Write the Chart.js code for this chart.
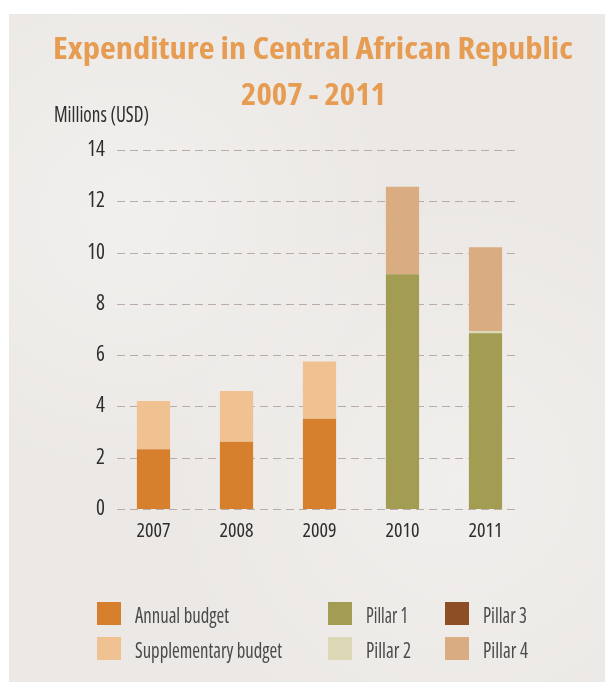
<!DOCTYPE html>
<html>
<head>
<meta charset="utf-8">
<script src="https://cdn.jsdelivr.net/npm/chart.js@4"></script>
<style>
  html, body { margin: 0; padding: 0; width: 609px; height: 682px; overflow: hidden; background: #ffffff; }
  #paper { position: absolute; left: 9px; top: 14px; width: 596px; height: 668px;
    background: #EBE8E5;
    background-image: radial-gradient(circle at 20% 30%, rgba(255,255,255,0.35), rgba(255,255,255,0) 40%),
                      radial-gradient(circle at 75% 70%, rgba(255,255,255,0.3), rgba(255,255,255,0) 45%); }
  #chartWrap { position: absolute; left: 0; top: 0; width: 609px; height: 682px; }
  .txt { position: absolute; white-space: nowrap; transform-origin: 0 0; line-height: 1; }
  .sw { position: absolute; width: 24px; height: 23px; }
</style>
</head>
<body>
<div id="paper"></div>
<div id="chartWrap"><canvas id="c" width="609" height="682"></canvas></div>
<div id="overlay"></div>
<script>
const years = ['2007', '2008', '2009', '2010', '2011'];
const yTicks = [0, 2, 4, 6, 8, 10, 12, 14];
const annualBudget = [2.33, 2.62, 3.52, null, null];
const supplementaryBudget = [1.88, 1.98, 2.23, null, null];
const pillar1 = [null, null, null, 9.15, 6.85];
const pillar2 = [null, null, null, 0, 0.08];
const pillar3 = [null, null, null, 0, 0];
const pillar4 = [null, null, null, 3.42, 3.28];
const seriesNames = ['Annual budget', 'Supplementary budget', 'Pillar 1', 'Pillar 2', 'Pillar 3', 'Pillar 4'];
const seriesColors = ['#D6802E', '#F1C291', '#A29D52', '#DCD8B6', '#8E4E25', '#D9AC82'];
const seriesData = [annualBudget, supplementaryBudget, pillar1, pillar2, pillar3, pillar4];
const titleLines = ['Expenditure in Central African Republic', '2007 - 2011'];
const unitLabel = 'Millions (USD)';

// pick the narrowest available sans font
const mctx = document.createElement('canvas').getContext('2d');
const candidates = [
  { style: '', family: "'Liberation Sans Narrow', sans-serif" },
  { style: '', family: "'Roboto Condensed', sans-serif" },
  { style: '', family: "'DejaVu Sans Condensed', sans-serif" },
  { style: 'condensed', family: "'Open Sans', sans-serif" },
  { style: 'condensed', family: "'Noto Sans', sans-serif" },
  { style: 'condensed', family: "'DejaVu Sans', sans-serif" },
  { style: '', family: "Roboto, sans-serif" },
  { style: '', family: "'Liberation Sans', sans-serif" }
];
let best = candidates[candidates.length - 1], bestW = Infinity;
candidates.forEach(c => {
  mctx.font = '10px serif';
  const str = (c.style ? c.style + ' ' : '') + '40px ' + c.family;
  mctx.font = str;
  if (mctx.font === '10px serif') return;
  const w = mctx.measureText('2007 Millions').width;
  if (w < bestW - 0.5) { bestW = w; best = c; }
});
const FF = best.family;
const FS = best.style;

const dashedGrid = {
  id: 'dashedGrid',
  beforeDatasetsDraw(chart) {
    const { ctx, chartArea, scales } = chart;
    ctx.save();
    ctx.strokeStyle = '#B9ABA8';
    ctx.lineWidth = 1.2;
    ctx.setLineDash([8, 5]);
    yTicks.forEach(v => {
      const y = Math.round(scales.y.getPixelForValue(v)) + 0.5;
      ctx.beginPath();
      ctx.moveTo(chartArea.left + 5, y);
      ctx.lineTo(chartArea.right - 8, y);
      ctx.stroke();
    });
    ctx.restore();
  }
};

new Chart(document.getElementById('c'), {
  type: 'bar',
  data: {
    labels: years,
    datasets: seriesNames.map((n, i) => ({
      label: n,
      data: seriesData[i],
      backgroundColor: seriesColors[i],
      borderWidth: 0,
      categoryPercentage: 1.0,
      barPercentage: 0.4,
      stack: 's'
    }))
  },
  options: {
    responsive: false,
    animation: false,
    layout: { padding: { top: 150, right: 82, bottom: 133, left: 0 } },
    plugins: { legend: { display: false }, tooltip: { enabled: false }, title: { display: false } },
    scales: {
      x: {
        stacked: true,
        grid: { display: false, drawTicks: false },
        border: { display: false },
        ticks: { color: '#2e2e2e', font: { family: FF, weight: FS || undefined, size: 20 }, padding: 10 },
        afterFit(s) { s.height = 40; }
      },
      y: {
        stacked: true,
        min: 0, max: 14,
        afterBuildTicks(s) { s.ticks = yTicks.map(v => ({ value: v })); },
        grid: { display: false, drawTicks: false },
        border: { display: false },
        ticks: { color: '#2e2e2e', font: { family: FF, weight: FS || undefined, size: 21 }, padding: 7 },
        afterFit(s) { s.width = 112; }
      }
    }
  },
  plugins: [dashedGrid]
});

// overlay text, each fitted to its width in the reference
const ov = document.getElementById('overlay');
function addText(str, x, y, w, size, color, bold) {
  const d = document.createElement('div');
  d.className = 'txt';
  d.textContent = str;
  d.style.fontFamily = FF;
  if (FS) d.style.fontStretch = FS;
  d.style.fontSize = size + 'px';
  d.style.fontWeight = bold ? 'bold' : 'normal';
  d.style.color = color;
  d.style.top = y + 'px';
  ov.appendChild(d);
  const nat = d.getBoundingClientRect().width;
  const k = w / nat;
  d.style.left = x + 'px';
  d.style.transform = 'scaleX(' + k + ')';
  return d;
}
addText(titleLines[0], 53, 33, 520, 30, '#E69C52', true);
addText(titleLines[1], 241, 79, 145, 30, '#E69C52', true);
addText(unitLabel, 54, 104, 95, 21, '#2e2e2e', false);

const legendPos = [
  { x: 97, y: 602, w: 94 }, { x: 97, y: 637, w: 147 },
  { x: 328, y: 602, w: 42 }, { x: 328, y: 637, w: 45 },
  { x: 445, y: 602, w: 44 }, { x: 445, y: 637, w: 45 }
];
seriesNames.forEach((n, i) => {
  const p = legendPos[i];
  const sw = document.createElement('div');
  sw.className = 'sw';
  sw.style.left = p.x + 'px'; sw.style.top = p.y + 'px';
  sw.style.background = seriesColors[i];
  ov.appendChild(sw);
  addText(n, p.x + 38, p.y + 0.5, p.w, 22, '#4a4a4a', false);
});
</script>
</body>
</html>
